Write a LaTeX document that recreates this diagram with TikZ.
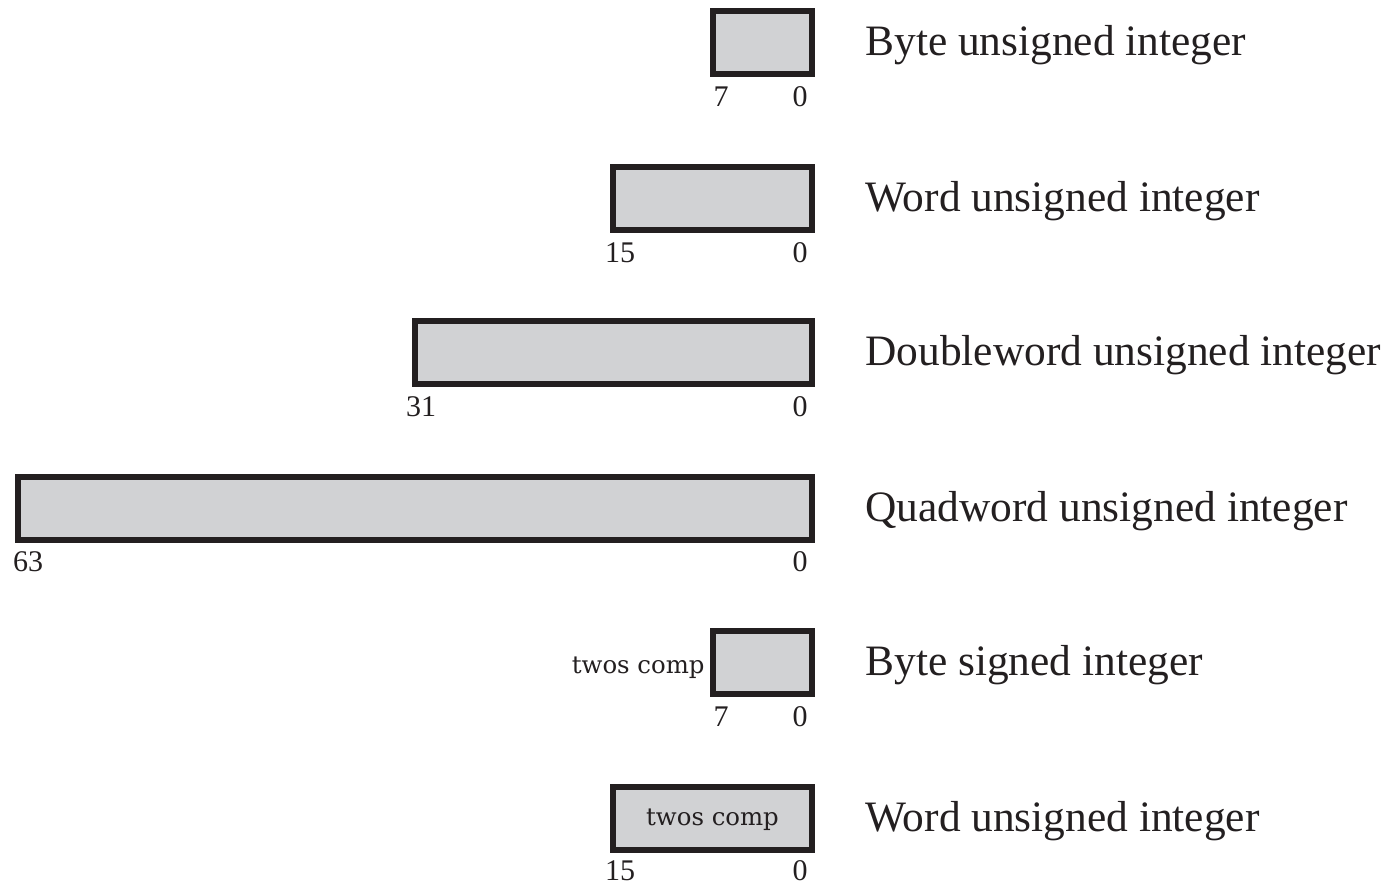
\documentclass[tikz,border=0pt]{standalone}
\usepackage{fontspec}
\setmainfont{Liberation Serif}
\newfontfamily\twosfont{DejaVu Serif}
\begin{document}
\begin{tikzpicture}[x=0.5pt,y=-0.5pt,
  box/.style={draw=boxline, fill=boxgray, line width=3pt, inner sep=0pt, outer sep=0pt, minimum height=31.5pt, anchor=east},
  lab/.style={font=\fontsize{21.7}{24}\selectfont, text=boxline, anchor=base west, inner sep=0pt},
  num/.style={font=\fontsize{15}{17}\selectfont, text=boxline, anchor=base, inner sep=0pt},
  twos/.style={font=\twosfont\fontsize{12.2}{14}\selectfont, text=boxline, inner sep=0pt}]
\definecolor{boxgray}{HTML}{D1D2D4}
\definecolor{boxline}{HTML}{231F20}
\useasboundingbox (0,0) rectangle (1387,884);
% row 1
\node[box, minimum width=49.5pt] (b1) at (812,42.5) {};
\node[lab] (l1) at (865,55.5) {Byte unsigned integer};
\node[num] (h1) at (721,106) {7};
\node[num] (z1) at (800,106) {0};
% row 2
\node[box, minimum width=99.5pt] (b2) at (812,198.5) {};
\node[lab] (l2) at (865,211) {Word unsigned integer};
\node[num] (h2) at (620,262) {15};
\node[num] (z2) at (800,262) {0};
% row 3
\node[box, minimum width=198.5pt] (b3) at (812,352.5) {};
\node[lab] (l3) at (865,365) {Doubleword unsigned integer};
\node[num] (h3) at (421,416) {31};
\node[num] (z3) at (800,416) {0};
% row 4
\node[box, minimum width=397pt] (b4) at (812,508.5) {};
\node[lab] (l4) at (865,521) {Quadword unsigned integer};
\node[num] (h4) at (28,571) {63};
\node[num] (z4) at (800,571) {0};
% row 5
\node[box, minimum width=49.5pt] (b5) at (812,662.5) {};
\node[lab] (l5) at (865,675) {Byte signed integer};
\node[twos, anchor=base east] (t5) at (705,673) {twos comp};
\node[num] (h5) at (721,726) {7};
\node[num] (z5) at (800,726) {0};
% row 6
\node[box, minimum width=99.5pt] (b6) at (812,818.5) {};
\node[lab] (l6) at (865,831) {Word unsigned integer};
\node[twos, anchor=base] (t6) at (712.5,825) {twos comp};
\node[num] (h6) at (620,880) {15};
\node[num] (z6) at (800,880) {0};
\end{tikzpicture}
\end{document}
